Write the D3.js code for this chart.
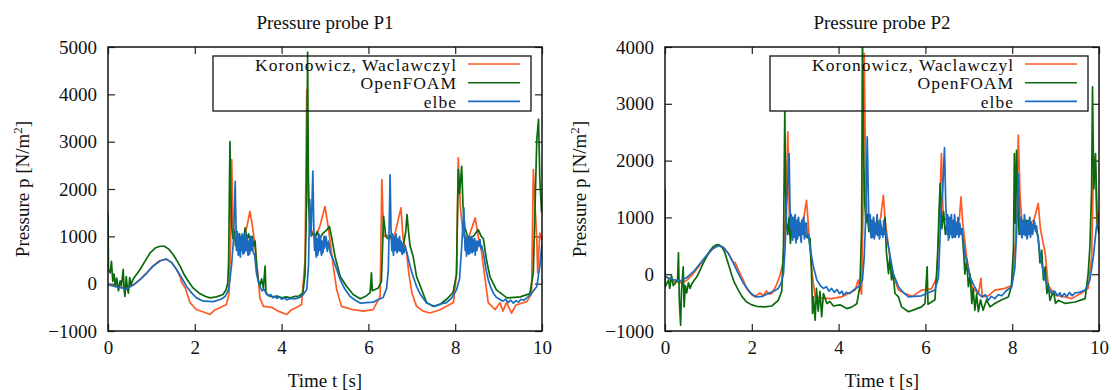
<!DOCTYPE html>
<html>
<head>
<meta charset="utf-8">
<script src="https://cdn.jsdelivr.net/npm/d3@7"></script>
<style>
  html, body { margin: 0; padding: 0; background: #fff; }
  svg { display: block; }
  text { font-family: "Liberation Serif", "Times New Roman", serif; font-size: 19px; fill: #111; }
  .key text { font-size: 17.5px; letter-spacing: 1px; }
</style>
</head>
<body>
<div id="chart"></div>
<script>
// time axis and tick labels
const timeTicks = [0, 2, 4, 6, 8, 10];
const p1Ticks = [-1000, 0, 1000, 2000, 3000, 4000, 5000];
const p2Ticks = [-1000, 0, 1000, 2000, 3000, 4000];
const seriesNames = ['Koronowicz, Waclawczyl', 'OpenFOAM', 'elbe'];
const seriesColors = ['#ff5a24', '#0b6a0b', '#1b6cc0'];

// probe P1, [t, p]
const p1Koronowicz = [[0,-10],[0.2,-60],[0.43,-100],[0.6,-10],[0.74,90],[0.9,240],[1.04,380],[1.2,490],[1.34,520],[1.46,450],[1.58,300],[1.66,150],[1.7,20],[1.78,-90],[1.89,-400],[2.04,-550],[2.2,-600],[2.35,-650],[2.47,-550],[2.6,-500],[2.73,-440],[2.79,-200],[2.82,700],[2.85,2620],[2.88,1200],[3.0,1000],[3.06,900],[3.12,950],[3.2,1200],[3.27,1530],[3.33,1210],[3.39,790],[3.45,230],[3.5,-300],[3.58,-480],[3.77,-500],[3.92,-580],[4.12,-650],[4.23,-550],[4.35,-500],[4.46,-440],[4.54,500],[4.58,4100],[4.61,2350],[4.65,1210],[4.77,950],[4.88,1210],[5.0,1630],[5.07,1210],[5.12,900],[5.19,370],[5.27,-130],[5.38,-480],[5.65,-550],[5.88,-580],[6.11,-550],[6.27,-270],[6.31,2200],[6.35,1000],[6.45,1020],[6.5,950],[6.61,1050],[6.75,1600],[6.8,950],[6.88,650],[6.93,230],[7.0,-190],[7.11,-480],[7.26,-580],[7.42,-620],[7.65,-550],[7.96,-400],[8.03,200],[8.07,2660],[8.12,1600],[8.19,1000],[8.3,950],[8.46,1390],[8.53,1000],[8.61,650],[8.69,85],[8.76,-400],[8.92,-550],[9.03,-400],[9.1,-580],[9.18,-400],[9.3,-620],[9.4,-450],[9.65,-380],[9.76,-210],[9.8,2410],[9.84,1630],[9.88,950],[9.9,230],[9.95,1070],[10,900]];
const p1OpenFoam = [[0,1500],[0.01,300],[0.05,230],[0.08,470],[0.11,50],[0.14,200],[0.17,-60],[0.2,120],[0.24,-150],[0.28,60],[0.31,-50],[0.35,300],[0.37,-100],[0.39,-270],[0.42,150],[0.45,-120],[0.47,-200],[0.5,130],[0.53,-30],[0.58,100],[0.66,200],[0.74,300],[0.85,470],[0.97,650],[1.1,760],[1.2,790],[1.3,790],[1.4,730],[1.5,615],[1.6,470],[1.66,370],[1.75,200],[1.85,50],[1.96,-90],[2.1,-200],[2.25,-270],[2.35,-300],[2.5,-280],[2.65,-230],[2.72,-130],[2.76,20],[2.78,500],[2.81,3000],[2.83,1800],[2.85,1210],[2.88,950],[2.91,1100],[2.94,800],[2.97,1000],[3.0,700],[3.03,1050],[3.06,750],[3.09,1000],[3.12,900],[3.16,1180],[3.2,950],[3.24,1050],[3.28,850],[3.32,1000],[3.36,800],[3.39,900],[3.42,370],[3.46,85],[3.5,-50],[3.54,100],[3.58,-100],[3.62,370],[3.64,-190],[3.7,-250],[3.8,-280],[3.9,-260],[4.0,-300],[4.1,-280],[4.2,-300],[4.3,-270],[4.4,-260],[4.49,-200],[4.54,200],[4.57,1500],[4.6,4890],[4.62,1710],[4.65,1200],[4.7,1050],[4.77,990],[4.82,1100],[4.88,950],[4.94,1050],[5.0,1100],[5.06,1150],[5.1,1210],[5.15,1000],[5.23,580],[5.35,150],[5.5,-60],[5.65,-230],[5.81,-320],[5.95,-260],[6.04,-190],[6.07,230],[6.09,-150],[6.23,-90],[6.3,50],[6.35,1420],[6.4,1000],[6.45,950],[6.5,1020],[6.58,900],[6.65,950],[6.72,850],[6.8,790],[6.86,1100],[6.89,1460],[6.93,1050],[6.96,800],[7.03,580],[7.11,150],[7.2,-60],[7.34,-400],[7.49,-480],[7.65,-440],[7.8,-330],[7.95,-190],[8.03,200],[8.07,2410],[8.1,1900],[8.15,2480],[8.18,1630],[8.22,1200],[8.3,950],[8.42,1000],[8.53,1140],[8.6,1000],[8.65,950],[8.72,510],[8.8,150],[8.95,-130],[9.19,-300],[9.5,-280],[9.72,-210],[9.8,230],[9.84,1630],[9.88,3040],[9.92,3470],[9.95,2200],[9.99,1500]];
const p1Elbe = [[0,-20],[0.2,-70],[0.43,-110],[0.6,-20],[0.74,85],[0.9,230],[1.04,370],[1.2,480],[1.34,520],[1.46,450],[1.58,300],[1.7,120],[1.81,-60],[1.93,-200],[2.04,-300],[2.2,-370],[2.43,-380],[2.6,-330],[2.7,-270],[2.77,-150],[2.8,20],[2.85,420],[2.89,900],[2.93,2160],[2.95,1200],[2.96,700],[2.97,800],[2.98,1100],[2.99,1050],[3.0,600],[3.01,650],[3.02,1000],[3.03,950],[3.04,620],[3.05,560],[3.06,1000],[3.07,900],[3.08,700],[3.09,1050],[3.1,800],[3.11,620],[3.12,900],[3.13,980],[3.14,650],[3.15,700],[3.16,1050],[3.17,1100],[3.18,700],[3.19,760],[3.2,1000],[3.21,900],[3.22,650],[3.23,600],[3.24,900],[3.25,850],[3.26,620],[3.27,700],[3.28,1000],[3.29,950],[3.3,700],[3.31,780],[3.32,950],[3.33,880],[3.34,700],[3.35,650],[3.38,600],[3.42,225],[3.46,60],[3.5,-60],[3.55,-150],[3.6,-120],[3.65,-220],[3.7,-260],[3.75,-230],[3.8,-300],[3.85,-270],[3.89,-310],[3.95,-280],[4.0,-330],[4.06,-300],[4.12,-340],[4.2,-310],[4.3,-320],[4.42,-290],[4.5,-230],[4.58,-120],[4.62,400],[4.65,1780],[4.68,1000],[4.72,2380],[4.74,1300],[4.75,900],[4.76,700],[4.77,1050],[4.78,1000],[4.79,620],[4.8,560],[4.81,950],[4.82,900],[4.83,600],[4.84,650],[4.85,1000],[4.86,1050],[4.87,700],[4.88,750],[4.89,1000],[4.9,950],[4.91,650],[4.92,600],[4.93,900],[4.94,880],[4.95,650],[4.96,700],[4.97,950],[4.98,1000],[4.99,750],[5.0,800],[5.02,1000],[5.03,950],[5.05,680],[5.06,700],[5.08,900],[5.09,850],[5.12,650],[5.19,510],[5.27,300],[5.35,85],[5.45,-100],[5.58,-270],[5.7,-350],[5.81,-410],[5.95,-400],[6.11,-390],[6.25,-330],[6.34,-290],[6.42,-100],[6.46,300],[6.5,2300],[6.52,1200],[6.53,900],[6.54,700],[6.55,1050],[6.56,1000],[6.57,650],[6.58,600],[6.59,1000],[6.6,950],[6.61,700],[6.62,750],[6.63,1000],[6.64,1050],[6.65,700],[6.66,650],[6.67,950],[6.68,900],[6.69,700],[6.7,780],[6.71,950],[6.72,1000],[6.73,680],[6.74,700],[6.75,900],[6.76,880],[6.77,650],[6.78,620],[6.79,850],[6.8,800],[6.82,650],[6.83,700],[6.85,800],[6.86,750],[6.9,600],[6.96,370],[7.03,150],[7.11,-60],[7.2,-230],[7.34,-410],[7.45,-450],[7.53,-480],[7.65,-430],[7.8,-400],[7.92,-300],[8.03,-130],[8.1,100],[8.15,790],[8.2,1600],[8.22,900],[8.23,700],[8.24,1000],[8.25,850],[8.26,580],[8.27,700],[8.28,850],[8.29,1000],[8.3,700],[8.31,620],[8.32,1000],[8.33,900],[8.34,640],[8.35,700],[8.36,900],[8.37,1000],[8.38,750],[8.39,650],[8.4,950],[8.41,900],[8.42,680],[8.43,750],[8.44,880],[8.45,950],[8.46,600],[8.47,700],[8.48,820],[8.49,900],[8.5,700],[8.52,820],[8.53,900],[8.55,800],[8.57,930],[8.59,750],[8.61,800],[8.65,650],[8.7,350],[8.76,85],[8.82,-80],[8.88,-200],[8.95,-290],[9.02,-330],[9.1,-370],[9.16,-330],[9.22,-400],[9.28,-350],[9.34,-410],[9.4,-360],[9.46,-390],[9.52,-330],[9.58,-350],[9.65,-300],[9.75,-220],[9.88,-60],[9.95,370],[10,860]];

// probe P2, [t, p]
const p2Koronowicz = [[0,-30],[0.15,-120],[0.35,-150],[0.5,-110],[0.65,10],[0.8,160],[0.96,320],[1.1,450],[1.23,505],[1.35,470],[1.46,370],[1.52,280],[1.57,215],[1.62,200],[1.7,60],[1.8,-100],[1.88,-250],[1.98,-350],[2.07,-400],[2.13,-360],[2.19,-330],[2.26,-380],[2.34,-295],[2.4,-350],[2.46,-340],[2.55,-220],[2.65,-20],[2.72,200],[2.76,800],[2.8,1600],[2.83,2505],[2.86,1200],[2.88,700],[2.92,900],[2.98,800],[3.05,950],[3.12,850],[3.2,1000],[3.26,1300],[3.3,900],[3.38,70],[3.46,-400],[3.6,-420],[3.84,-430],[4.07,-400],[4.25,-330],[4.38,-280],[4.45,-105],[4.53,-350],[4.56,1000],[4.59,3885],[4.62,2000],[4.65,1000],[4.72,850],[4.8,950],[4.9,800],[4.97,1000],[5.03,1390],[5.08,900],[5.15,480],[5.22,70],[5.38,-280],[5.53,-340],[5.7,-390],[5.91,-280],[6.14,-260],[6.26,-60],[6.31,800],[6.37,2125],[6.41,1000],[6.5,950],[6.6,850],[6.7,900],[6.78,950],[6.82,1360],[6.86,900],[6.95,305],[7.07,-220],[7.22,-350],[7.28,-75],[7.31,-400],[7.45,-380],[7.6,-280],[7.83,-250],[7.99,-200],[8.08,600],[8.14,2450],[8.18,1400],[8.22,950],[8.3,850],[8.4,900],[8.5,950],[8.6,1245],[8.65,800],[8.76,365],[8.83,-200],[8.99,-370],[9.22,-400],[9.37,-430],[9.6,-330],[9.75,-250],[9.83,300],[9.87,1770],[9.91,2065],[9.95,800],[10,1100]];
const p2OpenFoam = [[0,1500],[0.005,-220],[0.08,-105],[0.11,-250],[0.15,-20],[0.19,-200],[0.23,-165],[0.29,-100],[0.31,375],[0.33,-460],[0.36,-900],[0.38,-300],[0.42,130],[0.44,-575],[0.47,-200],[0.5,-330],[0.54,-150],[0.58,-250],[0.61,-180],[0.66,-120],[0.73,-50],[0.8,60],[0.88,190],[0.96,310],[1.04,420],[1.12,490],[1.19,520],[1.25,515],[1.31,480],[1.38,380],[1.42,275],[1.48,130],[1.54,-20],[1.6,-150],[1.69,-280],[1.78,-400],[1.88,-490],[2.0,-540],[2.11,-565],[2.3,-575],[2.46,-560],[2.61,-460],[2.69,-300],[2.73,480],[2.76,2860],[2.78,1500],[2.8,900],[2.83,700],[2.86,1000],[2.89,540],[2.92,800],[2.96,850],[3.0,700],[3.05,900],[3.1,820],[3.15,700],[3.2,800],[3.26,650],[3.34,630],[3.37,200],[3.4,-690],[3.42,-400],[3.46,-810],[3.49,-250],[3.53,-650],[3.57,-300],[3.61,-750],[3.65,-340],[3.73,-515],[3.8,-480],[3.88,-560],[4.03,-540],[4.19,-605],[4.3,-580],[4.42,-520],[4.49,-220],[4.53,775],[4.55,4300],[4.57,2360],[4.6,1300],[4.63,900],[4.66,1050],[4.7,750],[4.74,950],[4.78,700],[4.82,900],[4.86,800],[4.9,950],[4.94,750],[4.98,850],[5.03,700],[5.07,1000],[5.1,400],[5.15,10],[5.18,300],[5.22,-100],[5.25,50],[5.3,-340],[5.38,-400],[5.45,-575],[5.61,-660],[5.76,-620],[5.91,-575],[5.99,-520],[6.04,130],[6.06,-530],[6.22,-450],[6.28,305],[6.31,1000],[6.34,1595],[6.38,800],[6.42,1100],[6.46,700],[6.5,900],[6.55,650],[6.6,950],[6.66,750],[6.72,850],[6.78,700],[6.84,800],[6.88,400],[6.91,0],[6.95,250],[6.99,-220],[7.03,0],[7.07,-515],[7.1,-250],[7.14,-635],[7.18,-350],[7.22,-660],[7.27,-450],[7.33,-635],[7.41,-450],[7.49,-575],[7.6,-515],[7.76,-450],[7.91,-400],[7.98,-220],[8.03,480],[8.05,2125],[8.07,900],[8.1,2180],[8.13,1200],[8.16,700],[8.2,1000],[8.26,800],[8.32,950],[8.38,750],[8.44,900],[8.5,800],[8.53,850],[8.6,650],[8.64,200],[8.68,420],[8.72,-100],[8.76,130],[8.8,-340],[8.83,-170],[8.87,-460],[8.95,-300],[9.0,-515],[9.06,-460],[9.22,-515],[9.45,-490],[9.68,-430],[9.75,0],[9.79,480],[9.83,1500],[9.85,3300],[9.88,1500],[9.92,2125],[9.96,900],[10,700]];
const p2Elbe = [[0,-35],[0.15,-90],[0.35,-120],[0.5,-60],[0.65,40],[0.8,180],[0.96,335],[1.1,450],[1.23,500],[1.35,470],[1.46,365],[1.58,190],[1.69,10],[1.8,-150],[1.92,-280],[2.0,-350],[2.11,-400],[2.25,-390],[2.38,-340],[2.5,-300],[2.61,-250],[2.68,-150],[2.73,10],[2.77,500],[2.8,1185],[2.83,1600],[2.86,2125],[2.88,1200],[2.89,1000],[2.9,800],[2.91,1050],[2.92,1000],[2.93,650],[2.94,600],[2.95,1000],[2.96,950],[2.97,650],[2.98,700],[2.99,1000],[3.0,1050],[3.01,600],[3.02,550],[3.03,950],[3.04,900],[3.05,620],[3.06,650],[3.07,1000],[3.08,1000],[3.09,680],[3.1,700],[3.11,900],[3.12,850],[3.13,600],[3.14,560],[3.15,950],[3.16,900],[3.17,700],[3.18,750],[3.19,1000],[3.2,1000],[3.21,620],[3.22,650],[3.23,900],[3.24,850],[3.26,900],[3.28,650],[3.3,700],[3.34,480],[3.42,130],[3.5,-105],[3.58,-200],[3.65,-250],[3.72,-220],[3.78,-300],[3.84,-250],[3.9,-320],[3.96,-270],[4.02,-340],[4.08,-300],[4.11,-370],[4.18,-320],[4.25,-340],[4.34,-280],[4.42,-240],[4.49,-195],[4.55,-100],[4.59,300],[4.63,1100],[4.66,2420],[4.69,1200],[4.7,950],[4.71,800],[4.72,1000],[4.73,1050],[4.74,700],[4.75,640],[4.76,950],[4.77,900],[4.78,650],[4.79,700],[4.8,1000],[4.81,1000],[4.82,620],[4.83,650],[4.84,900],[4.85,900],[4.86,700],[4.87,750],[4.88,1000],[4.89,1050],[4.9,680],[4.91,700],[4.92,880],[4.93,850],[4.94,620],[4.95,640],[4.96,950],[4.97,900],[4.99,700],[5.0,800],[5.02,650],[5.04,950],[5.06,700],[5.08,750],[5.15,480],[5.26,10],[5.38,-220],[5.5,-330],[5.61,-400],[5.75,-390],[5.91,-380],[6.05,-330],[6.22,-280],[6.3,-60],[6.33,500],[6.36,1150],[6.4,1500],[6.44,2230],[6.47,1200],[6.5,700],[6.51,1050],[6.52,1000],[6.53,600],[6.54,650],[6.55,1000],[6.56,950],[6.57,700],[6.58,750],[6.59,1000],[6.6,1050],[6.61,700],[6.62,640],[6.63,950],[6.64,900],[6.65,650],[6.66,700],[6.67,1050],[6.68,1000],[6.69,650],[6.7,680],[6.71,900],[6.72,880],[6.73,700],[6.74,750],[6.75,1000],[6.76,950],[6.77,650],[6.78,700],[6.79,900],[6.8,850],[6.82,700],[6.84,800],[6.91,365],[7.03,-50],[7.12,-200],[7.22,-340],[7.3,-400],[7.38,-360],[7.45,-460],[7.52,-390],[7.6,-430],[7.68,-360],[7.76,-380],[7.85,-300],[7.99,-220],[8.06,100],[8.1,700],[8.14,1770],[8.17,1000],[8.18,850],[8.19,700],[8.2,1000],[8.21,950],[8.22,650],[8.23,640],[8.24,950],[8.25,900],[8.26,700],[8.27,750],[8.28,1050],[8.29,1000],[8.3,680],[8.31,700],[8.32,900],[8.33,850],[8.34,620],[8.35,650],[8.36,950],[8.37,900],[8.38,700],[8.39,780],[8.4,1000],[8.41,1000],[8.42,650],[8.43,700],[8.44,900],[8.45,850],[8.47,700],[8.48,750],[8.5,950],[8.52,900],[8.54,750],[8.56,850],[8.6,600],[8.64,365],[8.7,100],[8.76,-105],[8.84,-250],[8.91,-340],[8.98,-300],[9.04,-380],[9.1,-330],[9.14,-400],[9.2,-340],[9.26,-390],[9.32,-320],[9.38,-380],[9.45,-330],[9.55,-320],[9.68,-280],[9.79,-105],[9.87,305],[9.94,830],[10,1000]];

const width = 1112, height = 390;
const svg = d3.select('#chart').append('svg')
  .attr('width', width)
  .attr('height', height);

function renderPanel(id, left, title, yTicks, series) {
  const plot = { left: left, right: left + 434, top: 47, bottom: 331 };
  const x = d3.scaleLinear().domain([0, 10]).range([plot.left, plot.right]);
  const y = d3.scaleLinear().domain([yTicks[0], yTicks[yTicks.length - 1]]).range([plot.bottom, plot.top]);
  const g = svg.append('g');
  const tickLen = 7;

  g.append('clipPath').attr('id', 'clip-' + id)
    .append('rect')
    .attr('x', plot.left).attr('y', plot.top)
    .attr('width', plot.right - plot.left).attr('height', plot.bottom - plot.top);

  // inward ticks on all four sides, labels only bottom and left
  const fmt = d3.format('d');
  const axes = [
    d3.axisBottom(x).tickValues(timeTicks).tickFormat(fmt).tickSizeInner(-tickLen).tickSizeOuter(0).tickPadding(10),
    d3.axisTop(x).tickValues(timeTicks).tickSizeInner(-tickLen).tickSizeOuter(0).tickFormat(''),
    d3.axisLeft(y).tickValues(yTicks).tickFormat(fmt).tickSizeInner(-tickLen).tickSizeOuter(0).tickPadding(11),
    d3.axisRight(y).tickValues(yTicks).tickSizeInner(-tickLen).tickSizeOuter(0).tickFormat('')
  ];
  const offsets = [`translate(0,${plot.bottom})`, `translate(0,${plot.top})`,
                   `translate(${plot.left},0)`, `translate(${plot.right},0)`];
  axes.forEach((ax, i) => {
    const a = g.append('g').attr('transform', offsets[i]).call(ax);
    a.select('.domain').remove();
    a.selectAll('line').attr('stroke', '#222').attr('stroke-width', 1.2);
    a.selectAll('text').attr('font-family', null).attr('font-size', null).attr('fill', '#111');
  });

  const line = d3.line().x(d => x(d[0])).y(d => y(d[1]));

  const curves = g.append('g').attr('clip-path', `url(#clip-${id})`);
  series.forEach((s, i) => {
    curves.append('path')
      .datum(s)
      .attr('fill', 'none')
      .attr('stroke', seriesColors[i])
      .attr('stroke-width', 1.7)
      .attr('stroke-linejoin', 'round')
      .attr('d', line);
  });

  g.append('rect')
    .attr('x', plot.left).attr('y', plot.top)
    .attr('width', plot.right - plot.left).attr('height', plot.bottom - plot.top)
    .attr('fill', 'none').attr('stroke', '#111').attr('stroke-width', 1.5);

  // key
  const key = g.append('g').attr('class', 'key');
  key.append('rect')
    .attr('x', plot.left + 105).attr('y', plot.top + 9)
    .attr('width', plot.right - plot.left - 116).attr('height', 55)
    .attr('fill', 'none').attr('stroke', '#111').attr('stroke-width', 1.3);
  seriesNames.forEach((name, i) => {
    const ry = plot.top + 17 + i * 18.7;
    key.append('text')
      .attr('x', plot.right - 85).attr('y', ry + 6.5)
      .attr('text-anchor', 'end')
      .text(name);
    key.append('line')
      .attr('x1', plot.right - 74).attr('x2', plot.right - 22)
      .attr('y1', ry).attr('y2', ry)
      .attr('stroke', seriesColors[i]).attr('stroke-width', 1.6);
  });

  g.append('text')
    .attr('x', (plot.left + plot.right) / 2).attr('y', 28.5)
    .attr('text-anchor', 'middle')
    .text(title);

  g.append('text')
    .attr('x', (plot.left + plot.right) / 2).attr('y', 387)
    .attr('text-anchor', 'middle')
    .text('Time t [s]');

  const yl = g.append('text')
    .attr('transform', `translate(${plot.left - 79},${(plot.top + plot.bottom) / 2}) rotate(-90)`)
    .attr('text-anchor', 'middle');
  yl.append('tspan').text('Pressure p [N/m');
  yl.append('tspan').attr('dy', -7).attr('font-size', 13).text('2');
  yl.append('tspan').attr('dy', 7).text(']');
}

renderPanel('p1', 108, 'Pressure probe P1', p1Ticks, [p1Koronowicz, p1OpenFoam, p1Elbe]);
renderPanel('p2', 665, 'Pressure probe P2', p2Ticks, [p2Koronowicz, p2OpenFoam, p2Elbe]);
</script>
</body>
</html>
